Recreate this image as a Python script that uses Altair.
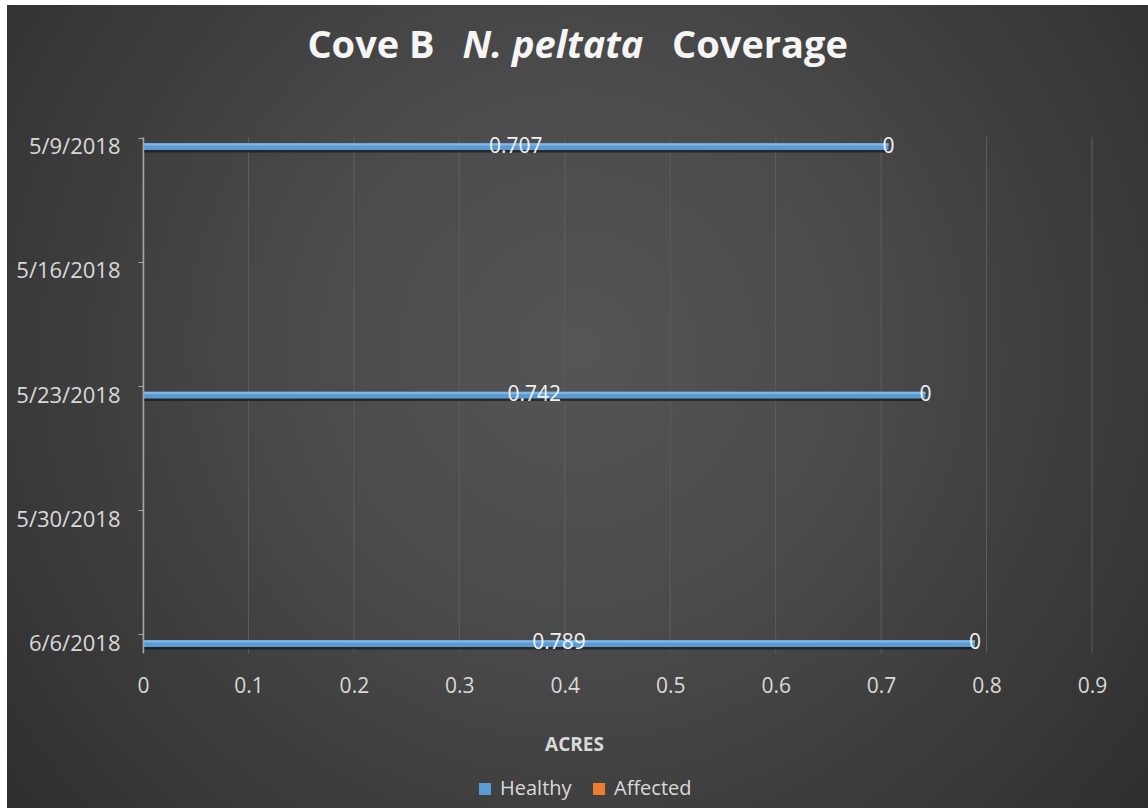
import altair as alt
import pandas as pd

# Survey dates shown on the axis and the dates that have measurements
dates = ["5/9/2018", "5/16/2018", "5/23/2018", "5/30/2018", "6/6/2018"]
obs_dates = ["5/9/2018", "5/23/2018", "6/6/2018"]
healthy = [0.707, 0.742, 0.789]
affected = [0, 0, 0]
statuses = ["Healthy", "Affected"]
colors = ["#5b9bd5", "#ed7d31"]
x_ticks = [0, 0.1, 0.2, 0.3, 0.4, 0.5, 0.6, 0.7, 0.8, 0.9]

FONT = "Open Sans"
TXT = "#d9d9d9"

rows = []
for d, h, a in zip(obs_dates, healthy, affected):
    rows.append({"date": d, "status": "Healthy", "acres": h, "order": 0})
    rows.append({"date": d, "status": "Affected", "acres": a, "order": 1})
df = pd.DataFrame(rows)

W, H = 949, 516

base = alt.Chart(df).transform_stack(
    stack="acres", groupby=["date"], as_=["x0", "x1"],
    sort=[alt.SortField("order", order="ascending")],
).transform_calculate(mid="(datum.x0 + datum.x1) / 2")

xscale = alt.Scale(domain=[0, 0.9], nice=False, zero=True)
yscale = alt.Scale(type="point", domain=dates, padding=0.0765)

x_axis = alt.Axis(
    values=x_ticks, format=".1~f", domain=False, ticks=False, grid=False, zindex=1,
    labelFlush=False,
    labelFont=FONT, labelFontSize=21, labelColor=TXT, labelPadding=22,
    title="ACRES", titleFont=FONT, titleFontSize=19, titleFontWeight="bold",
    titleColor=TXT, titleX=431, titleY=91, titleBaseline="middle",
)
y_axis = alt.Axis(
    domain=True, domainColor="#a6a6a6", domainWidth=1.5,
    ticks=True, tickColor="#a6a6a6", tickSize=5, tickOffset=-9,
    labelOffset=9, grid=False, zindex=1,
    labelFont=FONT, labelFontSize=22, labelColor=TXT, labelPadding=18,
    title=None,
)

# Dark radial backdrop for the whole chart area
backdrop = alt.Chart(alt.Data(values=[{}])).mark_rect(
    color=alt.Gradient(
        gradient="radial",
        stops=[alt.GradientStop(color="#555555", offset=0),
               alt.GradientStop(color="#4a4a4a", offset=0.35),
               alt.GradientStop(color="#292929", offset=1)],
        x1=0.5, y1=0.45, x2=0.5, y2=0.45, r1=0, r2=0.72,
    )
).encode(x=alt.value(-136), x2=alt.value(W + 56), y=alt.value(-132), y2=alt.value(H + 155))

# Vertical gridlines at each axis value
grid = alt.Chart(pd.DataFrame({"v": x_ticks})).mark_rule(color="#5e5e5e", strokeWidth=1).encode(
    x=alt.X("v:Q", scale=xscale, axis=x_axis),
    y=alt.value(0),
    y2=alt.value(H),
)

shadow = base.mark_bar(size=6, yOffset=3, color="#141414", opacity=0.65).encode(
    x=alt.X("x0:Q", scale=xscale, axis=x_axis),
    x2="x1:Q",
    y=alt.Y("date:O", scale=yscale, axis=y_axis),
)

bars = base.mark_bar(size=7).encode(
    x=alt.X("x0:Q", scale=xscale, axis=x_axis),
    x2="x1:Q",
    y=alt.Y("date:O", scale=yscale, axis=y_axis),
    color=alt.Color(
        "status:N",
        scale=alt.Scale(domain=statuses, range=colors),
        legend=alt.Legend(
            orient="none", legendX=332, legendY=642, direction="horizontal",
            title=None, symbolType="square", symbolSize=144, symbolStrokeWidth=0,
            labelFont=FONT, labelFontSize=20, labelColor=TXT,
            labelOffset=5, columnPadding=17,
        ),
    ),
)

highlight = base.mark_bar(size=2, yOffset=-2, color="#8fbde8", opacity=0.8).transform_filter(
    "datum.status == 'Healthy'"
).encode(
    x=alt.X("x0:Q", scale=xscale, axis=x_axis),
    x2="x1:Q",
    y=alt.Y("date:O", scale=yscale, axis=y_axis),
)

labels = base.mark_text(font=FONT, fontSize=21, color="#f2f2f2", baseline="middle", align="center").encode(
    x=alt.X("mid:Q", scale=xscale, axis=x_axis),
    y=alt.Y("date:O", scale=yscale, axis=y_axis),
    text=alt.Text("acres:Q", format="~g"),
)


def title_piece(text, x, style="normal"):
    return alt.Chart(alt.Data(values=[{"t": text}])).mark_text(
        font=FONT, fontSize=38, fontWeight="bold", fontStyle=style,
        color="#f5f5f5", align="center", baseline="middle",
    ).encode(text="t:N", x=alt.value(x), y=alt.value(-90))


title_layers = [
    title_piece("Cove B", 228),
    title_piece("N. peltata", 410, "italic"),
    title_piece("Coverage", 617),
]

chart = alt.layer(backdrop, grid, shadow, bars, highlight, labels, *title_layers).properties(
    width=W, height=H,
    padding={"left": 143, "top": 137, "right": 56, "bottom": 155},
    autosize=alt.AutoSizeParams(type="none"),
    background="white",
).configure_view(stroke=None)

chart.save("out.html", embed_options={"renderer": "svg", "actions": False})
